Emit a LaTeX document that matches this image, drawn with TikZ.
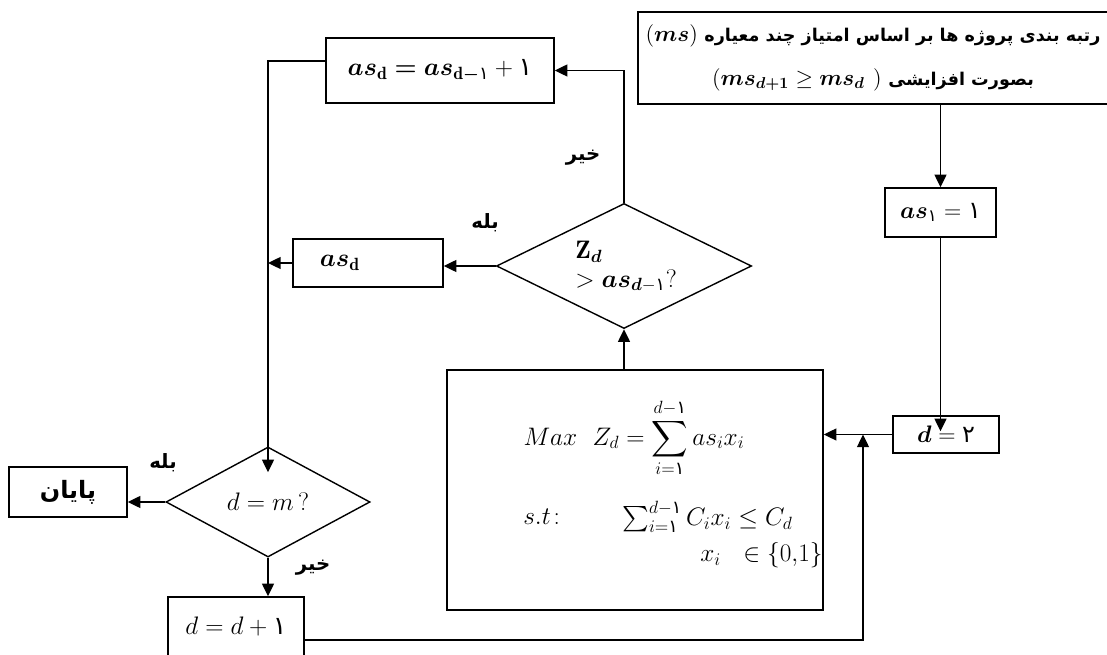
\documentclass[tikz,border=0pt]{standalone}
\usepackage{fix-cm}
\usepackage{amsmath,amssymb}
\usepackage{bm}
\usepackage{fontspec}
\usepackage{tikz}
\usetikzlibrary{positioning,arrows.meta,shapes.geometric,calc}
\TeXXeTstate=1
\newfontfamily\farsi[Script=Arabic]{DejaVu Sans}
\newcommand{\fa}[1]{{\farsi\beginR #1\endR}}
\newcommand{\yek}{\text{\farsi ١}}
\newcommand{\doo}{\text{\farsi ٢}}
\newcommand{\rankmath}[1]{{\fontsize{16}{19}\selectfont$#1$}}

\begin{document}
\begin{tikzpicture}[
  x=0.025cm, y=-0.025cm,
  >={Triangle[length=9pt, width=8.5pt]},
  every node/.style={font=\fontsize{18}{21}\selectfont},
  blk/.style={draw, line width=1pt, rectangle, align=center, inner sep=0pt},
  dec/.style={draw, line width=1pt, diamond, align=left, inner sep=0pt},
  txt/.style={anchor=west, inner sep=0pt},
  lbl/.style={font=\fontsize{14}{16}\selectfont\farsi\bfseries},
  arr/.style={->, line width=1pt}
]
  \useasboundingbox (0,0) rectangle (1107,655);

  % Rangbandi va meghdar avalie
  \node[blk, minimum width=11.75cm, minimum height=2.3cm,
        font=\fontsize{12.5}{15}\selectfont\bfseries] (rank) at (873,58)
    {\rankmath{(\bm{ms})}\ \fa{رتبه بندی پروژه ها بر اساس امتیاز چند معیاره}\\[14pt]
     \rankmath{(\bm{ms}_{\bm{d+1}} \geq \bm{ms}_{\bm{d}}\ )}\ \fa{بصورت افزایشی}};
  \node[blk, minimum width=2.775cm, minimum height=1.225cm,
        font=\fontsize{17}{20}\selectfont] (as1) at (940.5,212.5)
    {$\bm{as}_{\yek} = \yek$};
  \node[blk, minimum width=2.65cm, minimum height=0.925cm,
        font=\fontsize{17}{20}\selectfont] (d2) at (946,434.5)
    {$\bm{d} = \doo$};

  % Model
  \node[blk, minimum width=9.4cm, minimum height=6cm] (model) at (635,490) {};
  \node (obj) at (634,438)
    {$Max\ \ Z_d = \displaystyle\sum_{i=\yek}^{d-\yek} as_i x_i$};
  \node[txt] (st) at (523,517) {$s.t\colon$};
  \node[txt] (cap) at (622,517)
    {$\sum_{i=\yek}^{d-\yek} C_i x_i \leq C_d$};
  \node[txt] (bin) at (700,555) {$x_i\ \ \in \{0{,}1\}$};

  % Tasmim
  \node[dec, minimum width=6.375cm, minimum height=3.125cm] (dia1) at (624,266) {};
  \node[txt, align=left, font=\fontsize{18}{20}\selectfont] (dia1txt) at (575,267)
    {$\mathbf{Z}_{\bm{d}}$\\$> \bm{as}_{\bm{d}-\yek}?$};
  \node[blk, minimum width=5.7cm, minimum height=1.625cm] (inc) at (440,70.5)
    {$\bm{as}_{\mathbf{d}} \boldsymbol{=} \bm{as}_{\mathbf{d}\bm{-}\yek} + \yek$};
  \node[blk, minimum width=3.75cm, minimum height=1.2cm, text width=2.4cm,
        inner xsep=0.675cm, align=left] (asd) at (368,263)
    {$\bm{as}_{\mathbf{d}}$};

  % Payan
  \node[dec, minimum width=5.1cm, minimum height=2.75cm] (dia2) at (268,502)
    {$d = m\,?$};
  \node[blk, minimum width=2.95cm, minimum height=1.25cm,
        font=\fontsize{17}{20}\selectfont\farsi\bfseries] (endb) at (68,492)
    {\fa{پایان}};
  \node[blk, minimum width=3.4cm, minimum height=1.5cm] (dd1) at (236,627)
    {$d = d + \yek$};

  % Barchasb ha
  \node[lbl] (no1) at (583,158) {\fa{خیر}};
  \node[lbl] (yes1) at (485,223) {\fa{بله}};
  \node[lbl] (yes2) at (163,463) {\fa{بله}};
  \node[lbl] (no2) at (313,568) {\fa{خیر}};

  % Peykan ha
  \coordinate (jn) at (863,434.5);
  \draw[arr] (as1.north |- rank.south) -- (as1.north);
  \draw[arr, shorten >=-0.4cm] (as1.south) -- (as1.south |- d2.north);
  \draw[arr] (d2.west) -- (d2.west -| model.east);
  \draw[arr] ([yshift=-0.325cm]dd1.east) -| (jn);
  \draw[arr] (dia1.south |- model.north) -- (dia1.south);
  \draw[arr] (dia1.west) -- (dia1.west -| asd.east);
  \draw[arr] (dia1.north) |- (inc.east);
  \draw[arr, shorten >=-0.65cm] ([yshift=0.24cm]inc.west) -| (dia2.north);
  \draw[arr] (asd.west) -- (asd.west -| dia2.north);
  \draw[arr] (dia2.west) -- (dia2.west -| endb.east);
  \draw[arr] (dia2.south) -- (dia2.south |- dd1.north);

\end{tikzpicture}
\end{document}
